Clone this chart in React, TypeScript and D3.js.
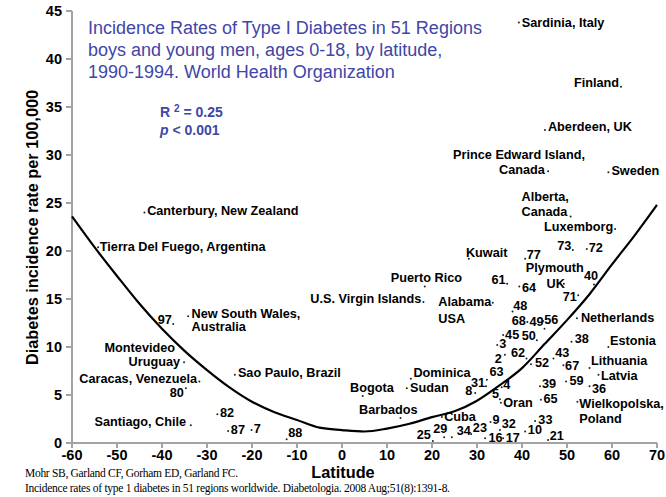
import React from "react";
import * as d3 from "d3";

// region labels, "\n" splits a label over two lines
const regions = [
  "Sardinia, Italy", "Finland", "Aberdeen, UK", "Prince Edward Island,\nCanada", "Sweden",
  "Alberta,\nCanada", "Luxemborg", "73", "72", "Kuwait", "77", "Plymouth\nUK", "40",
  "Puerto Rico", "61", "64", "U.S. Virgin Islands", "Alabama\nUSA", "71", "48", "Netherlands",
  "68", "49", "56", "45", "50", "3", "2", "62", "63", "31", "8", "4", "5", "Oran", "Dominica",
  "Sudan", "Bogota", "Barbados", "52", "43", "38", "Estonia", "67", "Lithuania", "Latvia",
  "39", "59", "36", "65", "Wielkopolska,\nPoland", "Cuba", "33", "9", "32", "23", "16", "17",
  "10", "21", "34", "25", "29", "88", "7", "87", "82", "Sao Paulo, Brazil", "Santiago, Chile",
  "80", "Caracas, Venezuela", "Montevideo\nUruguay", "97", "New South Wales,\nAustralia",
  "Canterbury, New Zealand", "Tierra Del Fuego, Argentina",
];

const latitude = [
  39.3, 62.0, 45.1, 45.8, 59.2, 50.8, 60.7, 51.3, 54.4, 28.2, 40.7, 49.3, 56.0, 18.4, 36.7,
  39.4, 18.1, 33.5, 52.5, 37.9, 52.2, 41.2, 45.0, 44.7, 35.8, 43.3, 34.5, 36.2, 41.0, 32.2,
  32.0, 29.6, 35.5, 35.1, 35.3, 15.3, 14.4, 4.6, 13.0, 42.0, 47.0, 51.0, 59.2, 49.2, 55.0,
  57.0, 44.0, 49.8, 55.0, 44.2, 52.3, 22.2, 42.9, 33.0, 35.1, 28.7, 31.8, 35.8, 40.7, 45.8,
  24.4, 20.2, 22.7, -12.3, -20.1, -25.3, -27.7, -23.8, -33.6, -34.7, -31.7, -35.1, -37.5,
  -34.2, -43.9, -54.2,
];

const incidence = [
  43.8, 37.1, 32.6, 28.3, 28.2, 23.6, 22.3, 20.1, 20.2, 19.2, 19.2, 16.6, 16.5, 16.3, 16.6,
  16.3, 14.7, 14.6, 15.4, 13.7, 13.0, 12.6, 11.9, 12.7, 11.25, 10.7, 10.2, 9.2, 8.8, 6.6,
  5.9, 5.2, 5.8, 4.55, 4.2, 6.7, 5.7, 4.9, 2.6, 8.2, 8.8, 10.55, 10.0, 8.1, 7.8, 7.1, 5.9,
  6.4, 5.9, 4.5, 4.3, 2.7, 2.3, 2.2, 1.35, 0.94, 0.49, 0.49, 1.2, 0.3, 0.6, 0.2, 0.6, 0.4,
  1.35, 1.25, 3.0, 7.1, 1.84, 5.7, 6.4, 8.4, 12.4, 13.2, 24.0, 20.4,
];

// fitted curve
const fitLatitude = [-60, -55, -50, -45, -40, -35, -30, -25, -20, -15, -10, -5, 0, 5, 10, 15, 20, 25, 30, 35, 40, 45, 50, 55, 60, 65, 70];
const fitIncidence = [23.6, 20.4, 17.4, 14.5, 11.9, 9.6, 7.6, 5.8, 4.3, 3.2, 2.4, 1.6, 1.35, 1.2, 1.5, 2.0, 2.7, 3.3, 4.4, 6.0, 7.8, 10.3, 12.8, 15.5, 18.6, 21.6, 24.8];

const xTicks = [-60, -50, -40, -30, -20, -10, 0, 10, 20, 30, 40, 50, 60, 70];
const yTicks = [0, 5, 10, 15, 20, 25, 30, 35, 40, 45];

const titleLines = [
  "Incidence Rates of Type I Diabetes in 51 Regions",
  "boys and young men, ages 0-18, by latitude,",
  "1990-1994. World Health Organization",
];

const citation = [
  "Mohr SB, Garland  CF, Gorham ED, Garland  FC.",
  "Incidence  rates of type 1 diabetes in 51 regions  worldwide.  Diabetologia.  2008 Aug;51(8):1391-8.",
];

// label placement relative to its dot: anchor, [dx, dy] per line (px)
const labelLayout: [string, number[][]][] = [
  ["start", [[3, 4]]], ["end", [[-2, 0]]], ["start", [[3, 1]]], ["start", [[-95, -12], [-49, 3]]],
  ["start", [[3, 3]]], ["start", [[-49, -15.7], [-49, -0.7]]], ["end", [[-2, 2]]], ["end", [[-1.5, 0]]],
  ["start", [[2, 2.5]]], ["start", [[-3, -2]]], ["start", [[1.5, 0.5]]], ["start", [[-38, -11.3], [-17.3, 4.3]]],
  ["start", [[-10, -5]]], ["start", [[-34, -5]]], ["end", [[-1.5, 0]]], ["start", [[2.7, 5]]],
  ["end", [[-2, 1.6]]], ["start", [[-54.4, 3.4], [-54.4, 20]]], ["end", [[-1.5, 5.7]]], ["start", [[0.6, -1.7]]],
  ["start", [[4, 3.4]]], ["end", [[-1.5, 3.3]]], ["end", [[-1, -2.5]]], ["start", [[1, 3.3]]],
  ["start", [[2, 4]]], ["end", [[-1, -0.7]]], ["start", [[2, 3.3]]], ["end", [[-3, 8.3]]],
  ["end", [[-1.5, -1.6]]], ["start", [[2.6, -3.3]]], ["end", [[-1, 0.7]]], ["end", [[-3, 2.3]]],
  ["start", [[1.6, 2]]], ["end", [[-1, -1]]], ["start", [[2.3, 4.7]]], ["start", [[2.6, -1.6]]],
  ["start", [[3.3, 4]]], ["start", [[-12.7, -3.7]]], ["start", [[-41.4, -4.3]]], ["start", [[4, 2.4]]],
  ["start", [[1.7, -1.6]]], ["start", [[3.3, 1.6]]], ["start", [[1.7, -1.7]]], ["start", [[1.7, 5]]],
  ["start", [[1.4, -3.3]]], ["start", [[2.4, 5]]], ["start", [[2, 1.3]]], ["start", [[3.3, 3.3]]],
  ["start", [[2.4, 6.6]]], ["start", [[2.6, 2.7]]], ["start", [[2, 6.6], [2, 21.6]]], ["start", [[2.3, 4.4]]],
  ["start", [[3.3, 2.6]]], ["start", [[2, 2.3]]], ["start", [[1.7, -1.7]]], ["start", [[1.7, -2.3]]],
  ["start", [[3.3, 3.4]]], ["start", [[2.7, 3.4]]], ["start", [[2.7, 2.3]]], ["start", [[1.7, 0]]],
  ["start", [[5, -2.3]]], ["end", [[-2, -2]]], ["start", [[-11, -4.6]]], ["start", [[1.6, -2]]],
  ["start", [[2.3, 3]]], ["start", [[2.7, 3.3]]], ["start", [[2.7, 2.4]]], ["start", [[3, 2.3]]],
  ["end", [[-4.7, 0.4]]], ["end", [[-2, 9]]], ["end", [[-2.3, 1]]], ["end", [[-9, -10.6], [-4, 3.7]]],
  ["end", [[-1.5, 0]]], ["start", [[3.4, 1.3], [3.4, 14.3]]], ["start", [[2.7, 2.3]]], ["start", [[1.7, 3.4]]],
];

const W = 666;
const H = 497;
const BLUE = "#4046a8";
const AXIS = "#a3a3a3";
const SANS = "Arial, 'Liberation Sans', sans-serif";

export default function App() {
  const x = d3.scaleLinear().domain([-60, 70]).range([72, 657]);
  const y = d3.scaleLinear().domain([0, 45]).range([443, 11]);

  const fitLine = d3
    .line<number>()
    .x((d) => x(d))
    .y((d, i) => y(fitIncidence[i]))
    .curve(d3.curveMonotoneX);

  return (
    <svg width={W} height={H} style={{ position: "absolute", left: 0, top: 0, background: "#fff" }}
      fontFamily={SANS}>
      {/* title */}
      <g fill={BLUE} fontSize={18}>
        {titleLines.map((t, i) => (
          <text key={i} x={88} y={34 + i * 22}>{t}</text>
        ))}
      </g>
      <g fill={BLUE} fontSize={14} fontWeight="bold">
        <text x={160} y={117}>
          R <tspan fontSize={10} dy={-5}>2</tspan><tspan dy={5}> = 0.25</tspan>
        </text>
        <text x={160} y={135}>
          <tspan fontStyle="italic">p</tspan> &lt; 0.001
        </text>
      </g>

      {/* axes */}
      <g stroke={AXIS} strokeWidth={2}>
        <line x1={x(-60)} x2={x(-60)} y1={y(45)} y2={y(0)} />
        <line x1={x(-60)} x2={x(70)} y1={y(0)} y2={y(0)} />
        {yTicks.map((t) => (
          <line key={t} x1={x(-60) - 6} x2={x(-60)} y1={y(t)} y2={y(t)} />
        ))}
        {xTicks.map((t) => (
          <line key={t} x1={x(t)} x2={x(t)} y1={y(0)} y2={y(0) + 5} />
        ))}
      </g>
      <g fontSize={14.5} fontWeight="bold" fill="#000">
        {yTicks.map((t) => (
          <text key={t} x={62} y={y(t)} dy="0.36em" textAnchor="end">{t}</text>
        ))}
        {xTicks.map((t) => (
          <text key={t} x={x(t)} y={460} textAnchor="middle">{String(t)}</text>
        ))}
      </g>
      <text x={343} y={478} textAnchor="middle" fontSize={16.3} fontWeight="bold">Latitude</text>
      <text transform="translate(38.3,227.5) rotate(-90)" textAnchor="middle" fontSize={16.3} fontWeight="bold">
        Diabetes incidence rate per 100,000
      </text>

      {/* fitted curve */}
      <path d={fitLine(fitLatitude) || ""} fill="none" stroke="#000" strokeWidth={2.2} />

      {/* regions */}
      <g fontSize={12.7} fontWeight="bold" fill="#000">
        {regions.map((name, i) => {
          const cx = x(latitude[i]);
          const cy = y(incidence[i]);
          const [anchor, offs] = labelLayout[i];
          const lines = name.split("\n");
          return (
            <g key={i}>
              <circle cx={cx} cy={cy} r={1} fill="#222" />
              {lines.map((ln, j) => (
                <text key={j} x={cx + offs[j][0]} y={cy + offs[j][1]} textAnchor={anchor}>{ln}</text>
              ))}
            </g>
          );
        })}
      </g>

      {/* citation */}
      <g fontFamily="'Times New Roman', 'Liberation Serif', serif" fontSize={11.5} fill="#000"
        style={{ whiteSpace: "pre" }}>
        <text x={25} y={477} textLength={213} lengthAdjust="spacing">{citation[0]}</text>
        <text x={25} y={492} textLength={425} lengthAdjust="spacing">{citation[1]}</text>
      </g>
    </svg>
  );
}
